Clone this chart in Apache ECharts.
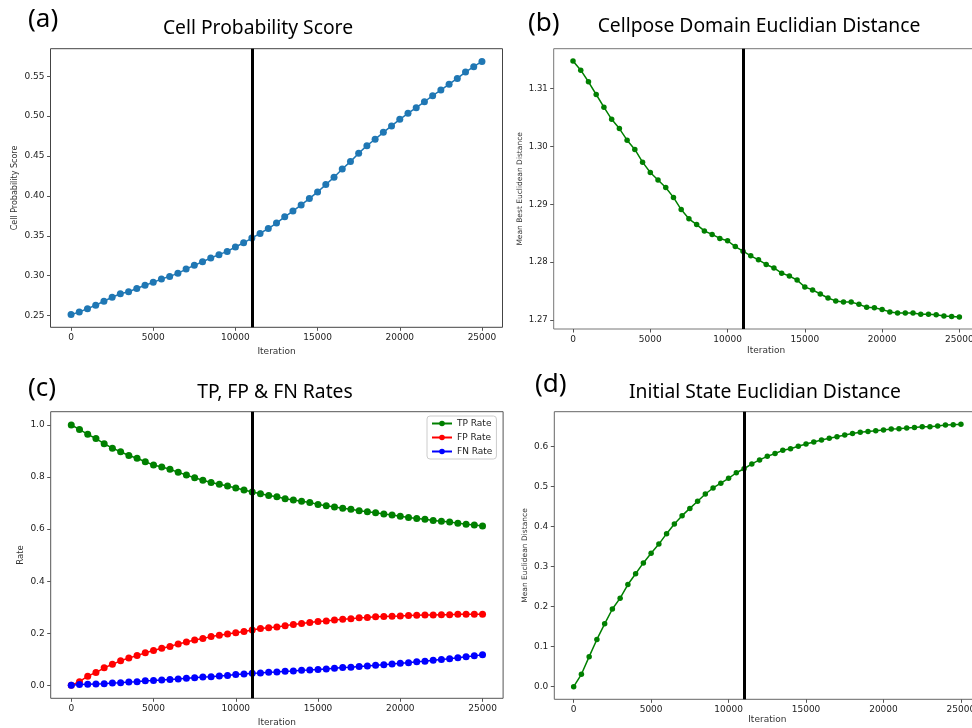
<!DOCTYPE html>
<html><head><meta charset="utf-8">
<script src="https://cdn.jsdelivr.net/npm/echarts@6/dist/echarts.min.js"></script>
<style>html,body{margin:0;padding:0;background:#fff}#c{width:972px;height:728px}</style>
</head><body><div id="c"></div>
<script>
const iterations = [0,500,1000,1500,2000,2500,3000,3500,4000,4500,5000,5500,6000,6500,7000,7500,8000,8500,9000,9500,10000,10500,11000,11500,12000,12500,13000,13500,14000,14500,15000,15500,16000,16500,17000,17500,18000,18500,19000,19500,20000,20500,21000,21500,22000,22500,23000,23500,24000,24500,25000];
const cellProbScore = [0.2513,0.2546,0.2588,0.2630,0.2680,0.2730,0.2775,0.2800,0.2840,0.2880,0.2917,0.2959,0.2992,0.3030,0.3084,0.3130,0.3176,0.3222,0.3264,0.3305,0.3360,0.3413,0.3472,0.3530,0.3592,0.3660,0.3738,0.3810,0.3888,0.3967,0.4050,0.4142,0.4234,0.4338,0.4430,0.4534,0.4630,0.4710,0.4797,0.4877,0.4960,0.5035,0.5106,0.5180,0.5256,0.5327,0.5400,0.5473,0.5552,0.5620,0.5686];
const cellposeDist = [1.3148,1.3132,1.3112,1.3090,1.3068,1.3047,1.3031,1.3011,1.2995,1.2973,1.2955,1.2942,1.2929,1.2912,1.2891,1.2875,1.2865,1.2854,1.2848,1.2841,1.2837,1.2827,1.2819,1.2811,1.2804,1.2796,1.2790,1.2781,1.2776,1.2769,1.2757,1.2752,1.2745,1.2738,1.2733,1.2731,1.2731,1.2727,1.2722,1.2721,1.2718,1.2714,1.2712,1.2712,1.2712,1.2710,1.2710,1.2709,1.2707,1.2706,1.2705];
const tpRate = [1.000,0.983,0.964,0.948,0.928,0.911,0.897,0.883,0.872,0.859,0.846,0.839,0.830,0.818,0.808,0.797,0.788,0.779,0.772,0.766,0.758,0.750,0.743,0.736,0.729,0.724,0.717,0.712,0.707,0.702,0.695,0.690,0.685,0.680,0.676,0.671,0.667,0.663,0.658,0.654,0.649,0.645,0.641,0.638,0.633,0.630,0.627,0.623,0.619,0.616,0.612];
const fpRate = [0.000,0.014,0.035,0.049,0.067,0.081,0.094,0.105,0.114,0.125,0.134,0.142,0.149,0.159,0.166,0.174,0.180,0.187,0.192,0.197,0.202,0.207,0.212,0.218,0.221,0.224,0.229,0.234,0.237,0.241,0.245,0.247,0.251,0.254,0.256,0.259,0.260,0.263,0.264,0.265,0.266,0.268,0.269,0.270,0.270,0.271,0.271,0.273,0.273,0.273,0.273];
const fnRate = [0.000,0.003,0.004,0.005,0.006,0.009,0.010,0.013,0.014,0.017,0.018,0.020,0.022,0.024,0.027,0.029,0.032,0.033,0.036,0.038,0.041,0.043,0.046,0.047,0.050,0.051,0.054,0.055,0.058,0.059,0.061,0.063,0.065,0.068,0.069,0.072,0.074,0.077,0.079,0.082,0.085,0.087,0.090,0.092,0.096,0.099,0.102,0.106,0.110,0.113,0.117];
const initStateDist = [0.000,0.031,0.075,0.118,0.157,0.194,0.221,0.255,0.282,0.309,0.333,0.356,0.382,0.406,0.427,0.445,0.463,0.481,0.496,0.508,0.520,0.534,0.544,0.556,0.566,0.575,0.582,0.590,0.594,0.600,0.606,0.611,0.616,0.620,0.624,0.628,0.632,0.635,0.637,0.639,0.641,0.643,0.644,0.646,0.647,0.649,0.649,0.651,0.653,0.654,0.655];
const xTicks = [0,5000,10000,15000,20000,25000];
const yTicksA = [0.25,0.30,0.35,0.40,0.45,0.50,0.55];
const yTicksB = [1.27,1.28,1.29,1.30,1.31];
const yTicksC = [0.0,0.2,0.4,0.6,0.8,1.0];
const yTicksD = [0.0,0.1,0.2,0.3,0.4,0.5,0.6];
const splitIteration = 11000;

const pairs = v => iterations.map((x, i) => [x, v[i]]);
const tickFont = 'DejaVu Sans';
const titleFont = 'Noto Sans';

function xAx(gi, nameGap) {
  return {
    type: 'value', gridIndex: gi, min: -1250, max: 26250,
    name: 'Iteration', nameLocation: 'middle', nameGap: nameGap,
    nameTextStyle: {fontFamily: tickFont, fontSize: 9, color: '#333'},
    axisLine: {show: false, onZero: false},
    axisTick: {show: true, customValues: xTicks, length: 3.5, lineStyle: {color: '#555'}},
    axisLabel: {customValues: xTicks, fontFamily: tickFont, fontSize: 9, color: '#222', margin: 6,
      formatter: v => String(v)},
    splitLine: {show: false}
  };
}
function yAx(gi, min, max, ticks, dec, name, nameGap, nameSize, labelSize) {
  return {
    type: 'value', gridIndex: gi, min: min, max: max,
    name: name, nameLocation: 'middle', nameGap: nameGap,
    nameTextStyle: {fontFamily: tickFont, fontSize: nameSize, color: '#333'},
    axisLine: {show: false, onZero: false},
    axisTick: {show: true, customValues: ticks, length: 3.5, lineStyle: {color: '#555'}},
    axisLabel: {customValues: ticks, fontFamily: tickFont, fontSize: labelSize, color: '#222', margin: 6,
      formatter: v => v.toFixed(dec)},
    splitLine: {show: false}
  };
}
const vline = {
  silent: true, symbol: ['none', 'none'], label: {show: false},
  lineStyle: {color: '#000', width: 3, type: 'solid'},
  data: [{xAxis: splitIteration}]
};
function lineSeries(name, xi, color, data, size, withLine) {
  const s = {
    name: name, type: 'line', xAxisIndex: xi, yAxisIndex: xi, data: pairs(data),
    symbol: 'circle', symbolSize: size, showSymbol: true,
    itemStyle: {color: color}, lineStyle: {color: color, width: 1.5},
    animation: false
  };
  if (withLine) s.markLine = vline;
  return s;
}
const gridBase = {show: true, borderWidth: 1, backgroundColor: 'transparent', containLabel: false, outerBoundsMode: 'none'};
const panelStyle = {fontFamily: titleFont, fontSize: 26, fontWeight: 'normal', color: '#000'};
const titleStyle = {fontFamily: titleFont, fontSize: 19.3, fontWeight: 'normal', color: '#000'};

const chart = echarts.init(document.getElementById('c'), null, {renderer: 'canvas'});
chart.setOption({
  backgroundColor: '#fff',
  animation: false,
  title: [
    {text: '(a)', left: 23, top: 2, textStyle: panelStyle},
    {text: 'Cell Probability Score', left: 253, textAlign: 'center', top: 14, textStyle: titleStyle},
    {text: '(b)', left: 523, top: 6, textStyle: panelStyle},
    {text: 'Cellpose Domain Euclidian Distance', left: 754, textAlign: 'center', top: 12, textStyle: titleStyle},
    {text: '(c)', left: 23, top: 371, textStyle: panelStyle},
    {text: 'TP, FP & FN Rates', left: 270, textAlign: 'center', top: 378, textStyle: titleStyle},
    {text: '(d)', left: 530, top: 367, textStyle: panelStyle},
    {text: 'Initial State Euclidian Distance', left: 760, textAlign: 'center', top: 378, textStyle: titleStyle}
  ],
  grid: [
    Object.assign({left: 50.5, top: 48.7, width: 452, height: 278.6, borderColor: '#444'}, gridBase),
    Object.assign({left: 553.7, top: 48.7, width: 425, height: 280.3, borderColor: '#777'}, gridBase),
    Object.assign({left: 50.7, top: 411.7, width: 452.4, height: 286.6, borderColor: '#555'}, gridBase),
    Object.assign({left: 554.3, top: 411.7, width: 426, height: 287.6, borderColor: '#666'}, gridBase)
  ],
  xAxis: [xAx(0, 20), xAx(1, 17), xAx(2, 20), xAx(3, 16)],
  yAxis: [
    yAx(0, 0.2354, 0.5845, yTicksA, 2, 'Cell Probability Score', 32, 8, 9),
    yAx(1, 1.26844, 1.31692, yTicksB, 2, 'Mean Best Euclidean Distance', 30, 7.5, 8.5),
    yAx(2, -0.05, 1.0511, yTicksC, 1, 'Rate', 25, 8.5, 9),
    yAx(3, -0.0314, 0.6864, yTicksD, 1, 'Mean Euclidean Distance', 25, 7.5, 9)
  ],
  legend: {
    data: ['TP Rate', 'FP Rate', 'FN Rate'],
    orient: 'vertical', left: 427, top: 416,
    itemWidth: 20, itemHeight: 7, itemGap: 5,
    textStyle: {fontFamily: tickFont, fontSize: 9, color: '#222'},
    borderColor: '#ccc', borderWidth: 1, borderRadius: 3, padding: [3, 4, 3, 4],
    backgroundColor: '#fff'
  },
  series: [
    lineSeries('Cell Probability Score', 0, '#1f77b4', cellProbScore, 7, true),
    lineSeries('Mean Best Euclidean Distance', 1, '#008000', cellposeDist, 5.5, true),
    lineSeries('TP Rate', 2, '#008000', tpRate, 7, true),
    lineSeries('FP Rate', 2, '#ff0000', fpRate, 7, false),
    lineSeries('FN Rate', 2, '#0000ff', fnRate, 7, false),
    lineSeries('Mean Euclidean Distance', 3, '#008000', initStateDist, 5.5, true)
  ]
});
</script></body></html>
